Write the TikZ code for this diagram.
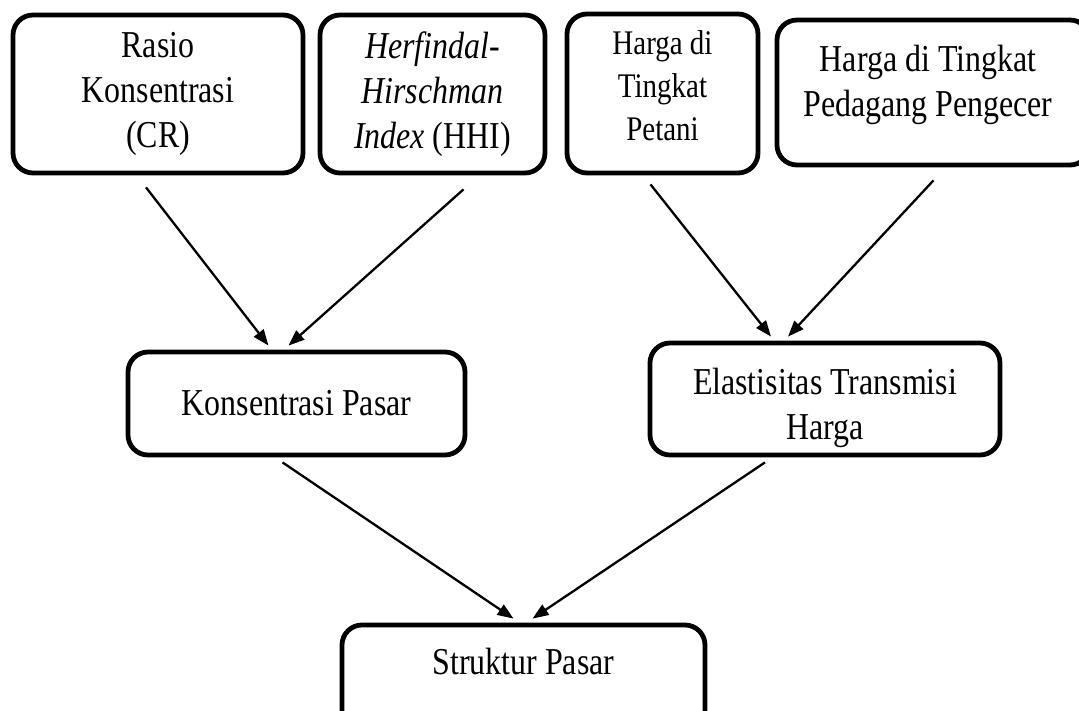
\documentclass[tikz,border=0pt]{standalone}
\usepackage{fontspec}
\setmainfont[FakeStretch=0.84]{Liberation Serif}
\usetikzlibrary{arrows.meta,calc}
\begin{document}
\begin{tikzpicture}[x=1pt,y=-1pt,
  box/.style={draw, line width=4.8pt, rounded corners=20pt, inner sep=0pt, align=center,
              font=\fontsize{38}{45}\selectfont},
  txt/.style={align=center, inner sep=0pt, font=\fontsize{38}{45}\selectfont},
  conn/.style={line width=2.3pt, -{Triangle[length=16pt,width=12pt]}}]
\useasboundingbox (0,0) rectangle (1079,711);

\node[box, minimum width=290pt, minimum height=158pt] (b1) at (158,94)
  {Rasio\\Konsentrasi\\(CR)};
\node[box, minimum width=225pt, minimum height=158pt] (b2) at (432.5,94)
  {\textit{Herfindal}-\\\textit{Hirschman}\\\textit{Index} (HHI)};
\node[box, minimum width=191pt, minimum height=159pt] (b3) at (662.5,93.5) {};
\node[txt, font=\fontsize{34.5}{43}\selectfont] (t3) at (662.5,86) {Harga di\\Tingkat\\Petani};
\node[box, minimum width=313pt, minimum height=145pt] (b4) at (933.5,92.5) {};
\node[txt] (t4) at (928,85) {Harga di Tingkat\\Pedagang Pengecer};

\node[box, minimum width=337pt, minimum height=103pt] (b5) at (296.5,403.5)
  {Konsentrasi Pasar};
\node[box, minimum width=350pt, minimum height=112pt] (b6) at (825,399) {};
\node[txt] (t6) at (825,408) {Elastisitas Transmisi\\Harga};

\node[box, minimum width=363pt, minimum height=115pt] (b7) at (523.5,682.5) {};
\node[txt] (t7) at (523.5,661) {Struktur Pasar};

\draw[conn] ($(b1.south)+(-12,12)$) -- ($(b5.north)+(-28,-4)$);
\draw[conn] ($(b2.south)+(31,14)$) -- ($(b5.north)+(-8,-4)$);
\draw[conn] ($(b3.south)+(-12,9)$) -- ($(b6.north)+(-54,-4)$);
\draw[conn] ($(b4.south)+(0,13)$) -- ($(b6.north)+(-37,-4)$);
\draw[conn] ($(b5.south)+(-14,5)$) -- ($(b7.north)+(-10,-4)$);
\draw[conn] ($(b6.south)+(-60,5)$) -- ($(b7.north)+(9,-4)$);
\end{tikzpicture}
\end{document}
